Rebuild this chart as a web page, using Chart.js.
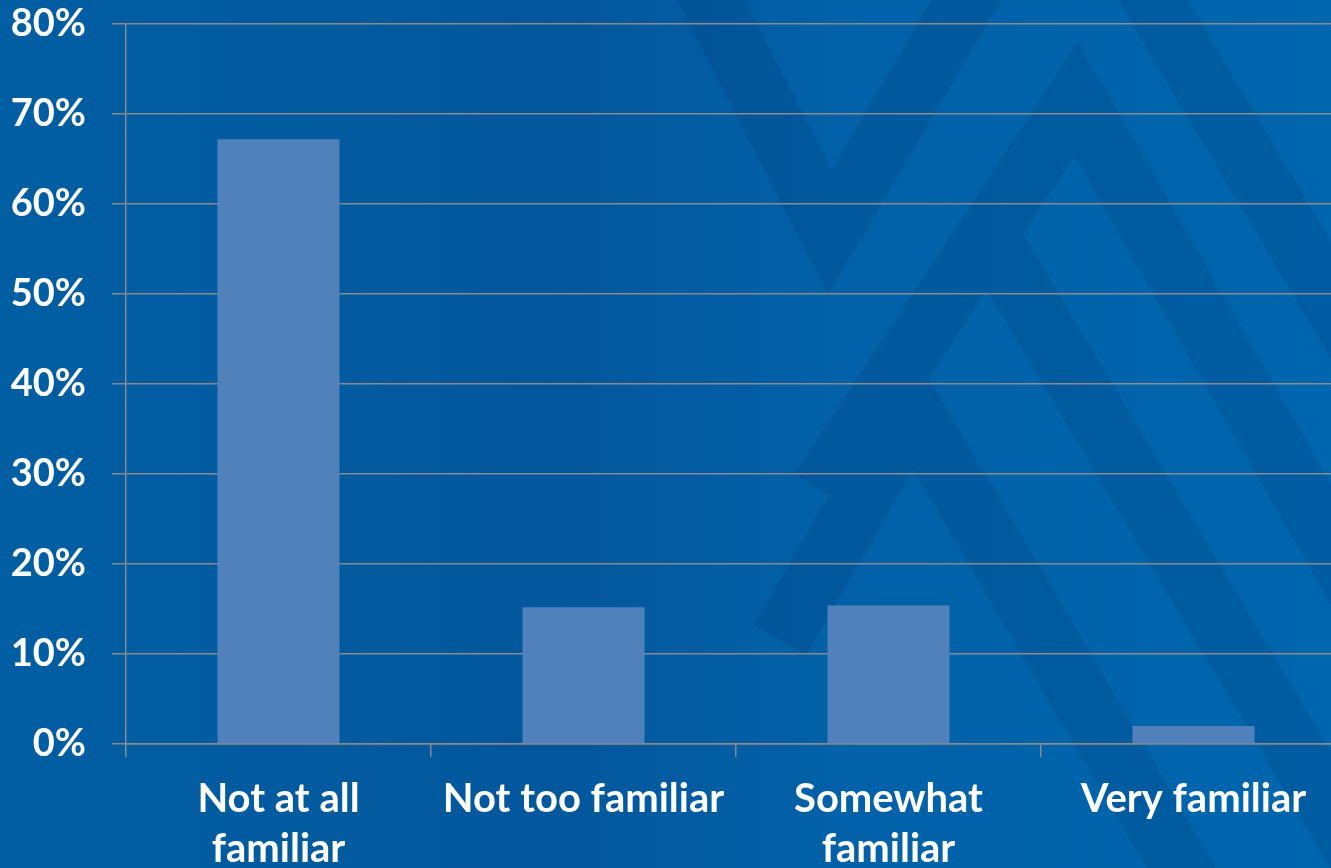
<!DOCTYPE html>
<html>
<head>
<meta charset="utf-8">
<script src="https://cdn.jsdelivr.net/npm/chart.js@4.4.1/dist/chart.umd.min.js"></script>
<style>
  html, body { margin: 0; padding: 0; overflow: hidden; background: #015ca1; }
  #wrap { width: 1346px; height: 868px; }
</style>
</head>
<body>
<div id="wrap"><canvas id="familiarChart"></canvas></div>
<script>
// survey answers, share of respondents in percent
const categories = [['Not at all', 'familiar'], 'Not too familiar', ['Somewhat', 'familiar'], 'Very familiar'];
const shares = [67.2, 15.2, 15.4, 2.0];
const tickValues = [0, 10, 20, 30, 40, 50, 60, 70, 80];

const gridGray = '#8a8a8a';
const xFont = { family: 'Lato', weight: 'bold', size: 40, lineHeight: 1.25 };
const yFont = { family: 'Lato', weight: 'bold', size: 38 };

// blue slide backdrop with the faint chevron bands
const backdrop = {
  id: 'backdrop',
  beforeDraw(chart) {
    const { ctx, width, height } = chart;
    ctx.save();
    const g = ctx.createLinearGradient(0, 0, width, 0);
    g.addColorStop(0, '#015ea3');
    g.addColorStop(0.42, '#03579c');
    g.addColorStop(0.62, '#0261a8');
    g.addColorStop(1, '#0066ae');
    ctx.fillStyle = g;
    ctx.fillRect(0, 0, width, height);

    const bands = [
      [[690, -40], [830, 232], [990, -40]],
      [[820, 490], [1076, 99], [1420, 700]],
      [[995, 245], [1420, 960]],
      [[780, 640], [913, 410], [1200, 900]],
      [[1135, -30], [1420, 450]]
    ];
    ctx.beginPath();
    bands.forEach(pts => pts.forEach(([x, y], i) => i ? ctx.lineTo(x, y) : ctx.moveTo(x, y)));
    ctx.strokeStyle = 'rgba(0, 40, 95, 0.15)';
    ctx.lineWidth = 60;
    ctx.lineJoin = 'miter';
    ctx.stroke();
    ctx.restore();
  }
};

new Chart(document.getElementById('familiarChart'), {
  type: 'bar',
  data: {
    labels: categories,
    datasets: [{
      data: shares,
      backgroundColor: '#5181bb',
      barPercentage: 0.4,
      categoryPercentage: 1
    }]
  },
  plugins: [backdrop],
  options: {
    responsive: true,
    maintainAspectRatio: false,
    animation: false,
    layout: { padding: { top: 24, right: 0, bottom: 0, left: 0 } },
    plugins: { legend: { display: false }, tooltip: { enabled: false } },
    scales: {
      x: {
        z: 1,
        grid: { drawOnChartArea: false, color: gridGray, lineWidth: 1.5, tickLength: 13, offset: true },
        border: { color: gridGray, width: 1.5 },
        ticks: { color: '#ffffff', font: xFont, padding: 17, maxRotation: 0, autoSkip: false },
        afterFit(scale) { scale.height = 124; }
      },
      y: {
        min: 0,
        max: 80,
        grid: { color: gridGray, lineWidth: 1.5, tickLength: 14 },
        border: { color: gridGray, width: 1.5 },
        ticks: { color: '#ffffff', font: yFont, padding: 26, callback: v => v + '%' },
        afterBuildTicks(scale) { scale.ticks = tickValues.map(v => ({ value: v })); },
        afterFit(scale) {
          scale.width = 126;
          scale.paddingTop = 0;
          scale.paddingBottom = 0;
        }
      }
    }
  }
});
</script>
</body>
</html>
